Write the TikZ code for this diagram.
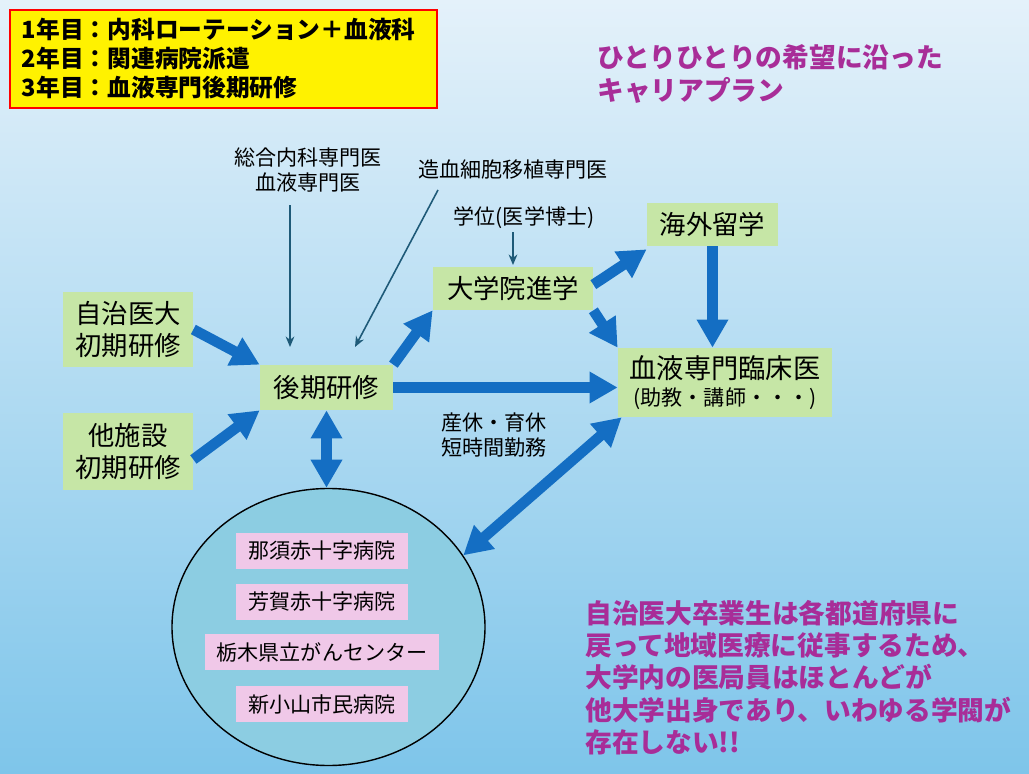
\documentclass[tikz,border=0pt]{standalone}
\usepackage{fontspec}
\setmainfont{Noto Sans CJK JP}
\usetikzlibrary{arrows.meta,shapes.geometric}
\definecolor{bgtop}{RGB}{228,241,250}
\definecolor{bgbot}{RGB}{126,197,234}
\definecolor{arrowblue}{RGB}{20,110,195}
\definecolor{thinblue}{RGB}{30,90,120}
\definecolor{boxgreen}{RGB}{198,230,166}
\definecolor{boxpink}{RGB}{240,200,232}
\definecolor{ellfill}{RGB}{140,205,226}
\definecolor{magtext}{RGB}{168,45,152}
\newdimen\pxu \pxu=0.02cm
\begin{document}
\begin{tikzpicture}[x=0.02cm,y=-0.02cm,
  gbox/.style={fill=boxgreen, inner sep=0pt, align=center, font=\fontsize{15}{18.2}\selectfont},
  pbox/.style={fill=boxpink, inner sep=0pt, minimum height=36\pxu, font=\fontsize{12}{14}\selectfont},
  lbl/.style={align=center, inner sep=0pt, font=\fontsize{12}{13.7}\selectfont},
  magenta/.style={text=magtext, align=left, inner sep=0pt, font=\bfseries\fontsize{15.2}{18.4}\selectfont},
  bigarrow/.style={draw=arrowblue, line width=6pt, -{Triangle[length=16pt,width=17pt]}},
  bigdouble/.style={draw=arrowblue, line width=6pt, {Triangle[length=16pt,width=17pt]}-{Triangle[length=16pt,width=17pt]}},
  thinarrow/.style={draw=thinblue, line width=0.9pt, -{Stealth[length=6pt,width=5pt]}}
]
\useasboundingbox (0,0) rectangle (1029,774);
\shade[top color=bgtop, bottom color=bgbot] (0,0) rectangle (1029,774);

% yellow box
\node[fill=yellow, draw=red, line width=0.8pt, minimum width=427\pxu, minimum height=98\pxu,
  text width=403\pxu, align=left, inner sep=0pt, font=\bfseries\fontsize{13.5}{16.5}\selectfont]
  (info) at (223.5,59) {1年目：内科ローテーション＋血液科\\2年目：関連病院派遣\\3年目：血液専門後期研修};

% title
\node[magenta, anchor=west] (title) at (597,74) {ひとりひとりの希望に沿った\\キャリアプラン};

% green boxes
\node[gbox, minimum width=130\pxu, minimum height=75\pxu] (jichi) at (128,329.5) {自治医大\\初期研修};
\node[gbox, minimum width=130\pxu, minimum height=77\pxu] (other) at (128,451.5) {他施設\\初期研修};
\node[gbox, minimum width=133\pxu, minimum height=45\pxu] (kouki) at (326.5,387.5) {後期研修};
\node[gbox, minimum width=160\pxu, minimum height=43\pxu] (grad) at (513,288.5) {大学院進学};
\node[gbox, minimum width=131\pxu, minimum height=43\pxu] (abroad) at (712.5,224.5) {海外留学};
\node[gbox, minimum width=214\pxu, minimum height=69\pxu] (clin) at (725,382.5)
  {\fontsize{15.5}{18}\selectfont 血液専門臨床医\\[-3pt]{\fontsize{12}{14}\selectfont (助教・講師・・・)}};

% labels
\node[lbl] (sogo) at (308,170) {総合内科専門医\\血液専門医};
\node[lbl] (zoketsu) at (513,170) {造血細胞移植専門医};
\node[lbl] (gakui) at (524,218) {学位(医学博士)};
\node[lbl, align=left] (sankyu) at (494,435) {産休・育休\\短時間勤務};

% ellipse with hospitals
\node[ellipse, draw=black, line width=0.8pt, fill=ellfill, minimum width=313\pxu, minimum height=277\pxu, inner sep=0pt] (hosp) at (328.5,627) {};
\node[pbox, minimum width=172\pxu] (nasu) at (322,550.5) {那須赤十字病院};
\node[pbox, minimum width=172\pxu] (haga) at (322,602) {芳賀赤十字病院};
\node[pbox, minimum width=234\pxu] (gan) at (322,652) {栃木県立がんセンター};
\node[pbox, minimum width=172\pxu] (oyama) at (322,704) {新小山市民病院};

% bottom text
\node[magenta, anchor=west] (note) at (585,677.5) {自治医大卒業生は各都道府県に\\戻って地域医療に従事するため、\\大学内の医局員はほとんどが\\他大学出身であり、いわゆる学閥が\\存在しない!!};

% thin arrows
\coordinate (s1) at (290,205);
\coordinate (s2) at (290,347);
\coordinate (z1) at (438,190);
\coordinate (z2) at (355,347);
\coordinate (g1) at (513,232);
\coordinate (g2) at (513,265);
\draw[thinarrow] (s1) -- (s2);
\draw[thinarrow] (z1) -- (z2);
\draw[thinarrow] (g1) -- (g2);

% thick arrows
\draw[bigarrow] (jichi.east) -- (kouki.north west);
\draw[bigarrow] ([yshift=-8\pxu]other.east) -- (kouki.south west);
\draw[bigarrow] (kouki.north east) -- (grad.south west);
\draw[bigarrow] (kouki.east) -- (kouki.east -| clin.west);
\draw[bigarrow] ([yshift=-18\pxu]grad.north east) -- ([yshift=-3\pxu]abroad.south west);
\draw[bigarrow] (grad.south east) -- (clin.north west);
\draw[bigarrow] (abroad.south) -- (abroad.south |- clin.north);
\draw[bigdouble] (kouki.south) -- (kouki.south |- hosp.north);
\draw[bigdouble] ([xshift=4\pxu]clin.south west) -- (hosp.28);
\end{tikzpicture}
\end{document}
